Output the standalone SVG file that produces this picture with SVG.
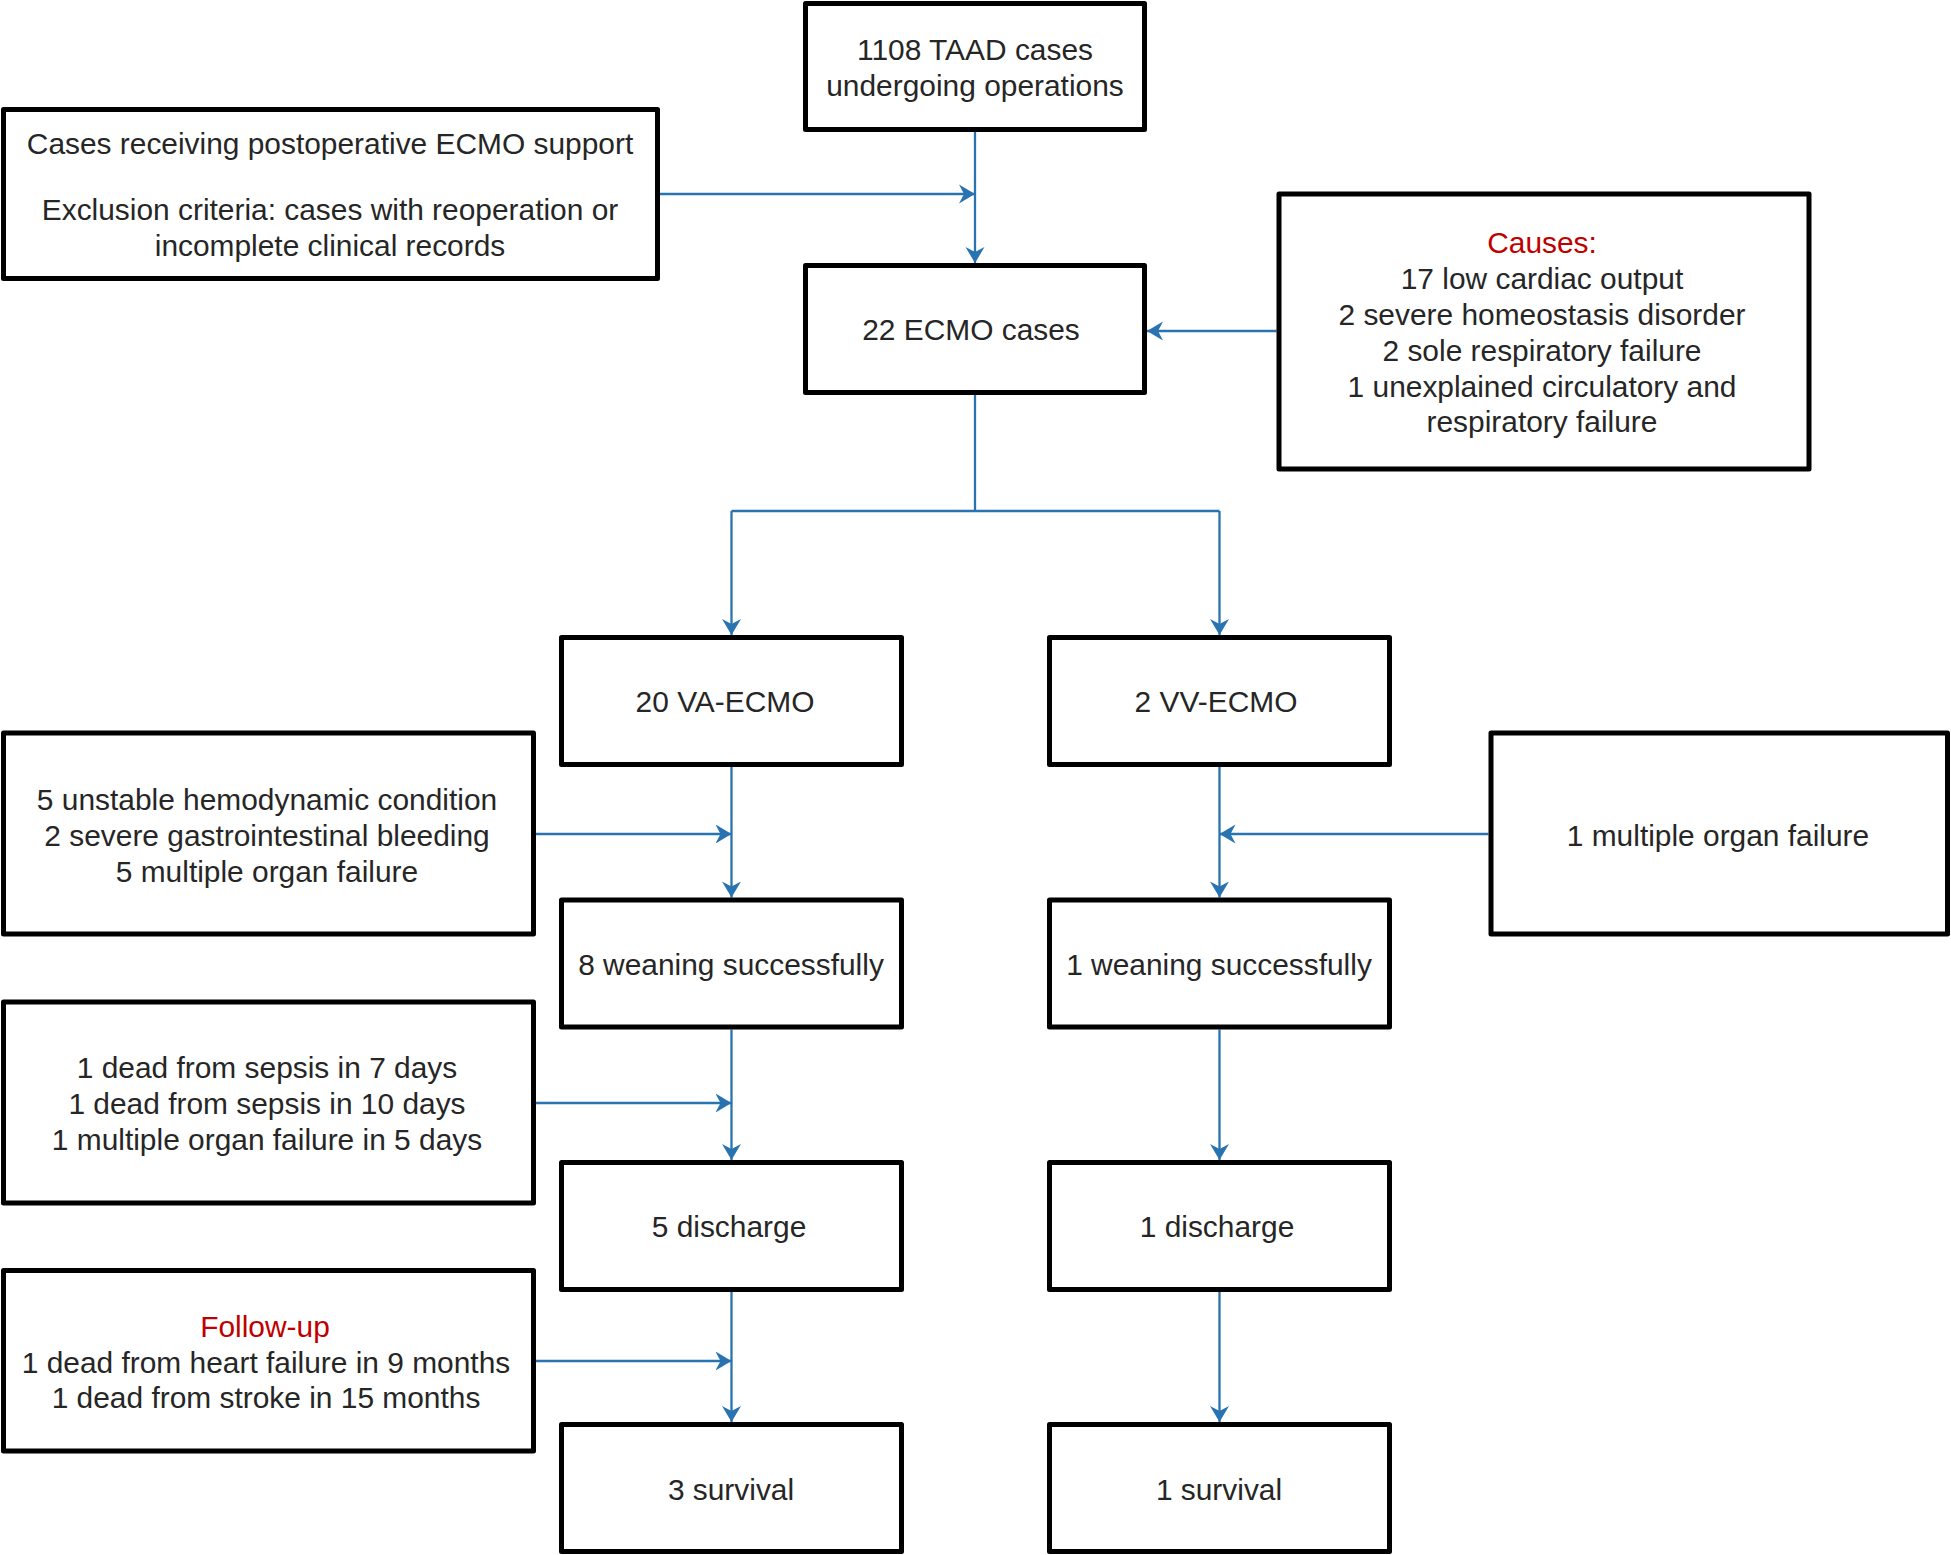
<svg xmlns="http://www.w3.org/2000/svg" width="1951" height="1555" viewBox="0 0 1951 1555">
<defs>
<style>
.box{fill:#fff;stroke:#000;stroke-width:5;stroke-linejoin:round}
.t{font-family:"Liberation Sans",Arial,sans-serif;font-size:29.9px;fill:#262626;text-anchor:middle}
.red{fill:#c00000}
.c{fill:none;stroke:#2873b0;stroke-width:2.3}
</style>
<marker id="ah" markerUnits="userSpaceOnUse" markerWidth="17" markerHeight="20" refX="16" refY="9.5" orient="auto" viewBox="0 0 17 19">
<path d="M0,0 L16,9.5 L0,19 L5,9.5 Z" fill="#2873b0"/>
</marker>
</defs>
<rect width="1951" height="1555" fill="#fff"/>

<g id="connectors">
<path class="c" d="M975,132 V263" marker-end="url(#ah)"/>
<path class="c" d="M660,194 H975" marker-end="url(#ah)"/>
<path class="c" d="M1276.5,331 H1147" marker-end="url(#ah)"/>
<path class="c" d="M975,395 V511 M731.5,511 H1219.5"/>
<path class="c" d="M731.5,511 V635" marker-end="url(#ah)"/>
<path class="c" d="M1219.5,511 V635" marker-end="url(#ah)"/>
<path class="c" d="M731.5,767 V897.5" marker-end="url(#ah)"/>
<path class="c" d="M731.5,1029.5 V1160" marker-end="url(#ah)"/>
<path class="c" d="M731.5,1292 V1422" marker-end="url(#ah)"/>
<path class="c" d="M1219.5,767 V897.5" marker-end="url(#ah)"/>
<path class="c" d="M1219.5,1029.5 V1160" marker-end="url(#ah)"/>
<path class="c" d="M1219.5,1292 V1422" marker-end="url(#ah)"/>
<path class="c" d="M536,834 H731.5" marker-end="url(#ah)"/>
<path class="c" d="M536,1103 H731.5" marker-end="url(#ah)"/>
<path class="c" d="M536,1361 H731.5" marker-end="url(#ah)"/>
<path class="c" d="M1488.5,834 H1219.5" marker-end="url(#ah)"/>
</g>

<g id="n_taad">
<rect class="box" x="805.5" y="3.5" width="339" height="126"/>
<text class="t" x="975" y="60">1108 TAAD cases</text>
<text class="t" x="975" y="96">undergoing operations</text>
</g>

<g id="n_excl">
<rect class="box" x="3.5" y="109.5" width="654" height="169"/>
<text class="t" x="330" y="154">Cases receiving postoperative ECMO support</text>
<text class="t" x="330" y="220">Exclusion criteria: cases with reoperation or</text>
<text class="t" x="330" y="256">incomplete clinical records</text>
</g>

<g id="n_ecmo">
<rect class="box" x="805.5" y="265.5" width="339" height="127"/>
<text class="t" x="971" y="339.5">22 ECMO cases</text>
</g>

<g id="n_causes">
<rect class="box" x="1279" y="194" width="530" height="275"/>
<text class="t red" x="1542" y="253">Causes:</text>
<text class="t" x="1542" y="288.5">17 low cardiac output</text>
<text class="t" x="1542" y="324.5">2 severe homeostasis disorder</text>
<text class="t" x="1542" y="360.5">2 sole respiratory failure</text>
<text class="t" x="1542" y="396.5">1 unexplained circulatory and</text>
<text class="t" x="1542" y="432">respiratory failure</text>
</g>

<g id="n_va">
<rect class="box" x="561.5" y="637.5" width="340" height="127"/>
<text class="t" x="725" y="712">20 VA-ECMO</text>
</g>

<g id="n_vv">
<rect class="box" x="1049.5" y="637.5" width="340" height="127"/>
<text class="t" x="1216" y="712">2 VV-ECMO</text>
</g>

<g id="n_left1">
<rect class="box" x="3.5" y="733" width="530" height="201"/>
<text class="t" x="267" y="809.5">5 unstable hemodynamic condition</text>
<text class="t" x="267" y="845.5">2 severe gastrointestinal bleeding</text>
<text class="t" x="267" y="881.5">5 multiple organ failure</text>
</g>

<g id="n_right1">
<rect class="box" x="1491" y="733" width="456.5" height="201"/>
<text class="t" x="1718" y="845.5">1 multiple organ failure</text>
</g>

<g id="n_wean_va">
<rect class="box" x="561.5" y="900" width="340" height="127"/>
<text class="t" x="731" y="974.5">8 weaning successfully</text>
</g>

<g id="n_wean_vv">
<rect class="box" x="1049.5" y="900" width="340" height="127"/>
<text class="t" x="1219" y="974.5">1 weaning successfully</text>
</g>

<g id="n_left2">
<rect class="box" x="3.5" y="1002" width="530" height="201"/>
<text class="t" x="267" y="1078">1 dead from sepsis in 7 days</text>
<text class="t" x="267" y="1114">1 dead from sepsis in 10 days</text>
<text class="t" x="267" y="1150">1 multiple organ failure in 5 days</text>
</g>

<g id="n_dis_va">
<rect class="box" x="561.5" y="1162.5" width="340" height="127"/>
<text class="t" x="729" y="1237">5 discharge</text>
</g>

<g id="n_dis_vv">
<rect class="box" x="1049.5" y="1162.5" width="340" height="127"/>
<text class="t" x="1217" y="1237">1 discharge</text>
</g>

<g id="n_left3">
<rect class="box" x="3.5" y="1270.5" width="530" height="180.5"/>
<text class="t red" x="265" y="1337">Follow-up</text>
<text class="t" x="266" y="1372.5">1 dead from heart failure in 9 months</text>
<text class="t" x="266" y="1408">1 dead from stroke in 15 months</text>
</g>

<g id="n_surv_va">
<rect class="box" x="561.5" y="1424.5" width="340" height="127"/>
<text class="t" x="731" y="1500">3 survival</text>
</g>

<g id="n_surv_vv">
<rect class="box" x="1049.5" y="1424.5" width="340" height="127"/>
<text class="t" x="1219" y="1500">1 survival</text>
</g>
</svg>
